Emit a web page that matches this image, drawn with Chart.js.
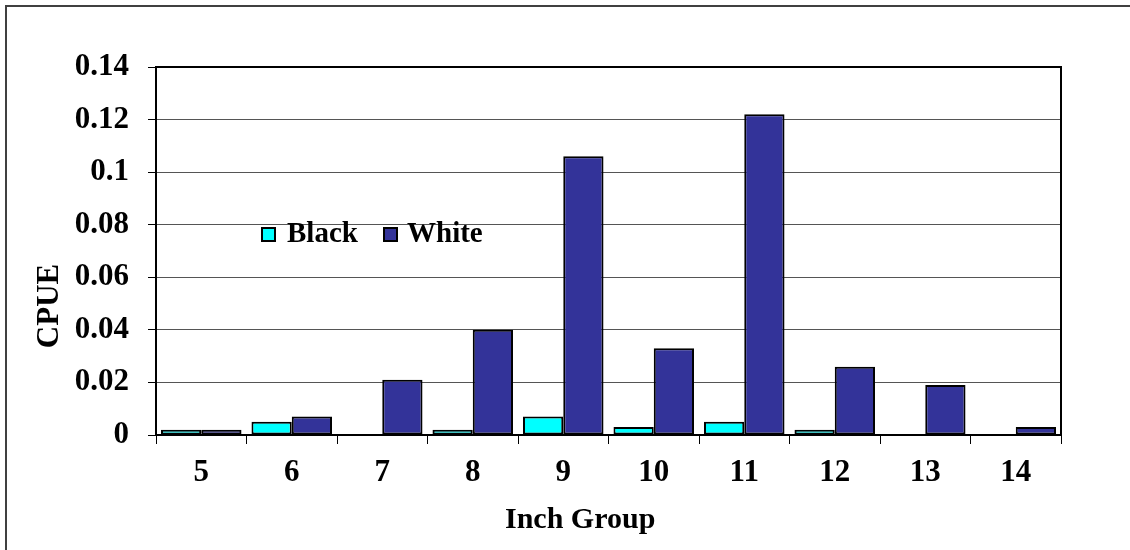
<!DOCTYPE html>
<html>
<head>
<meta charset="utf-8">
<title>CPUE by Inch Group</title>
<script src="https://cdn.jsdelivr.net/npm/chart.js@4/dist/chart.umd.min.js"></script>
<style>
  html, body { margin: 0; padding: 0; background: #fff; }
  #wrap { position: absolute; left: 0; top: 0; width: 1130px; height: 550px; }
</style>
</head>
<body>
<div id="wrap"><canvas id="c" width="1130" height="550"></canvas></div>
<script>
// Length groups (inches) and catch per unit effort for each species
const categories = ['5', '6', '7', '8', '9', '10', '11', '12', '13', '14'];
const blackCrappie = [0.002, 0.005, 0, 0.002, 0.007, 0.003, 0.005, 0.002, 0, 0];
const whiteCrappie = [0.002, 0.007, 0.021, 0.040, 0.106, 0.033, 0.122, 0.026, 0.019, 0.003];
const yTickLabels = ['0', '0.02', '0.04', '0.06', '0.08', '0.1', '0.12', '0.14'];
const seriesNames = ['Black', 'White'];
const seriesColors = ['#00FFFF', '#333399'];

const FONT = "'Liberation Serif', 'Times New Roman', Times, serif";

// Outer frame, plot border, axis titles and the in-plot legend
const decorations = {
  id: 'decorations',
  beforeDraw(chart) {
    const ctx = chart.ctx;
    ctx.save();
    ctx.strokeStyle = '#404040';
    ctx.lineWidth = 2;
    ctx.beginPath();
    ctx.moveTo(6, 550);
    ctx.lineTo(6, 6);
    ctx.lineTo(1130, 6);
    ctx.stroke();
    ctx.restore();
  },
  afterDraw(chart) {
    const ctx = chart.ctx;
    const a = chart.chartArea;
    ctx.save();
    // plot area top and right edges
    ctx.strokeStyle = '#000';
    ctx.lineWidth = 2;
    ctx.beginPath();
    ctx.moveTo(a.left, a.top);
    ctx.lineTo(a.right, a.top);
    ctx.lineTo(a.right, a.bottom);
    ctx.stroke();

    ctx.fillStyle = '#000';
    // x axis title
    ctx.font = 'bold 30px ' + FONT;
    ctx.textAlign = 'left';
    ctx.textBaseline = 'alphabetic';
    ctx.fillText('Inch Group', 505, 528);

    // y axis title
    ctx.save();
    ctx.translate(58, 306);
    ctx.rotate(-Math.PI / 2);
    ctx.font = 'bold 31px ' + FONT;
    ctx.textAlign = 'center';
    ctx.fillText('CPUE', 0, 0);
    ctx.restore();

    // legend
    const legendX = [262, 384];
    const textX = [287, 407];
    ctx.font = 'bold 29px ' + FONT;
    ctx.textAlign = 'left';
    for (let i = 0; i < seriesNames.length; i++) {
      ctx.fillStyle = seriesColors[i];
      ctx.fillRect(legendX[i], 228, 13, 13);
      ctx.strokeStyle = '#000';
      ctx.lineWidth = 2;
      ctx.strokeRect(legendX[i], 228, 13, 13);
      ctx.fillStyle = '#000';
      ctx.fillText(seriesNames[i], textX[i], 242);
    }
    ctx.restore();
  }
};

new Chart(document.getElementById('c'), {
  type: 'bar',
  data: {
    labels: categories,
    datasets: [
      { label: seriesNames[0], data: blackCrappie, backgroundColor: seriesColors[0] },
      { label: seriesNames[1], data: whiteCrappie, backgroundColor: seriesColors[1] }
    ]
  },
  options: {
    responsive: false,
    animation: false,
    devicePixelRatio: 1,
    layout: { padding: { left: 0, top: 67, right: 69, bottom: 0 } },
    datasets: {
      bar: {
        categoryPercentage: 0.89,
        barPercentage: 1.0,
        borderColor: '#000',
        borderWidth: 2,
        borderSkipped: false
      }
    },
    plugins: {
      legend: { display: false },
      tooltip: { enabled: false }
    },
    scales: {
      x: {
        grid: {
          offset: true,
          drawOnChartArea: false,
          drawTicks: true,
          tickLength: 9,
          tickColor: '#000',
          tickWidth: 1
        },
        border: { color: '#000', width: 2 },
        ticks: {
          color: '#000',
          padding: 10,
          font: { family: FONT, size: 31, weight: 'bold' }
        },
        afterFit(scale) { scale.height = 115; }
      },
      y: {
        min: 0,
        max: 0.14,
        ticks: {
          stepSize: 0.02,
          color: '#000',
          padding: 19,
          font: { family: FONT, size: 31, weight: 'bold' },
          callback: (value, index) => yTickLabels[index]
        },
        grid: {
          color: '#555',
          lineWidth: 1,
          tickLength: 8,
          tickColor: '#000'
        },
        border: { color: '#000', width: 2 },
        afterFit(scale) { scale.width = 156; }
      }
    }
  },
  plugins: [decorations]
});
</script>
</body>
</html>
